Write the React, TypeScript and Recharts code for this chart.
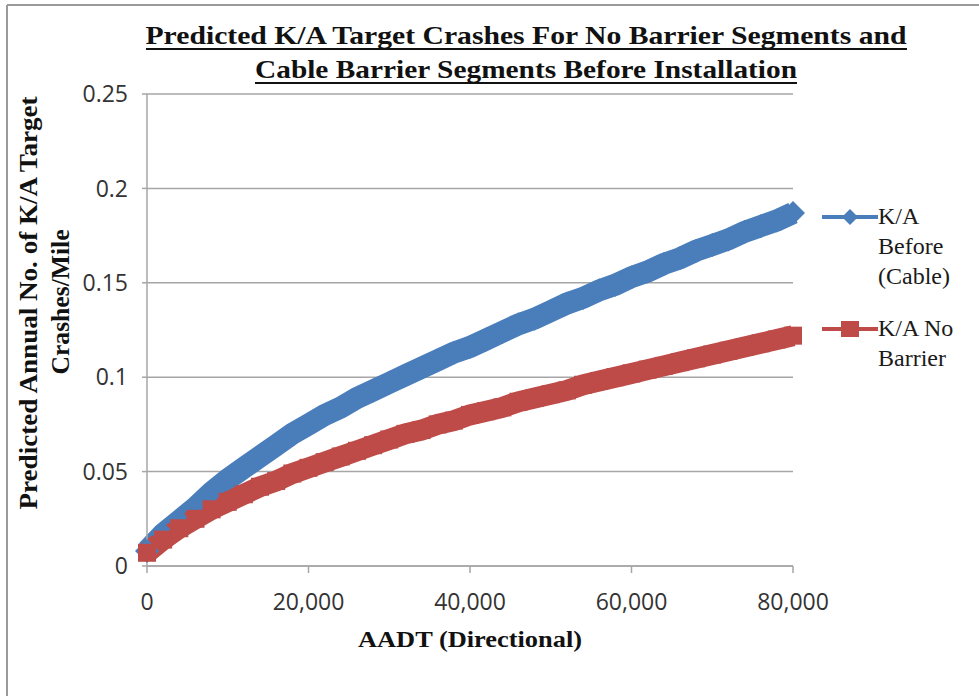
import React from 'react';
import {
  LineChart,
  Line,
  XAxis,
  YAxis,
  CartesianGrid,
  Legend,
} from 'recharts';

// AADT (directional) sample points
const aadt = [
  0, 2000, 4000, 6000, 8000, 10000, 12000, 14000, 16000, 18000,
  20000, 22000, 24000, 26000, 28000, 30000, 32000, 34000, 36000, 38000,
  40000, 42000, 44000, 46000, 48000, 50000, 52000, 54000, 56000, 58000,
  60000, 62000, 64000, 66000, 68000, 70000, 72000, 74000, 76000, 78000,
  80000,
];

// K/A Before (Cable)
const beforeCable = [
  0.008, 0.017, 0.024, 0.031, 0.039, 0.046, 0.052, 0.058, 0.064, 0.070,
  0.075, 0.080, 0.084, 0.089, 0.093, 0.097, 0.101, 0.105, 0.109, 0.113,
  0.116, 0.120, 0.124, 0.128, 0.131, 0.135, 0.139, 0.142, 0.146, 0.149,
  0.153, 0.156, 0.160, 0.163, 0.167, 0.170, 0.173, 0.177, 0.180, 0.183,
  0.187,
];

// K/A No Barrier
const noBarrier = [
  0.007, 0.014, 0.020, 0.025, 0.030, 0.034, 0.038, 0.042, 0.045, 0.049,
  0.052, 0.055, 0.058, 0.061, 0.064, 0.067, 0.070, 0.072, 0.075, 0.077,
  0.080, 0.082, 0.084, 0.087, 0.089, 0.091, 0.093, 0.096, 0.098, 0.100,
  0.102, 0.104, 0.106, 0.108, 0.110, 0.112, 0.114, 0.116, 0.118, 0.120,
  0.122,
];

const xTicks = [0, 20000, 40000, 60000, 80000];
const yTicks = [0, 0.05, 0.1, 0.15, 0.2, 0.25];

const titleLines = [
  'Predicted K/A Target Crashes For No Barrier Segments and',
  'Cable Barrier Segments Before Installation',
];
const yLabelLines = ['Predicted Annual No. of K/A Target', 'Crashes/Mile'];
const xLabel = 'AADT (Directional)';

const legendLines: Record<string, string[]> = {
  beforeCable: ['K/A', 'Before', '(Cable)'],
  noBarrier: ['K/A No', 'Barrier'],
};

const BLUE = '#4a7ebb';
const RED = '#be4b48';
const GRID = '#a6a6a6';
const SERIF = '"Liberation Serif", "Times New Roman", serif';
const SANS = '"Open Sans", "Liberation Sans", sans-serif';

const data = aadt.map((x, i) => ({
  aadt: x,
  beforeCable: beforeCable[i],
  noBarrier: noBarrier[i],
}));

// big diamond markers, mostly hidden inside the thick stroke
const DiamondDot = (props: any) => {
  const { cx, cy, index } = props;
  if (cx == null || cy == null) return <g key={`d-${index}`} />;
  const r = 12;
  return (
    <path
      key={`d-${index}`}
      d={`M${cx},${cy - r}L${cx + r},${cy}L${cx},${cy + r}L${cx - r},${cy}Z`}
      fill={BLUE}
    />
  );
};

const SquareDot = (props: any) => {
  const { cx, cy, index } = props;
  if (cx == null || cy == null) return <g key={`s-${index}`} />;
  const h = 9;
  return <rect key={`s-${index}`} x={cx - h} y={cy - h} width={h * 2} height={h * 2} fill={RED} />;
};

const renderLegend = (props: any) => {
  const { payload } = props;
  return (
    <div style={{ fontFamily: SERIF, fontSize: 24, color: '#1a1a1a', lineHeight: '30px' }}>
      {(payload || []).map((entry: any, i: number) => {
        const key = entry.dataKey as string;
        const lines = legendLines[key] || [entry.value];
        const color = entry.color;
        return (
          <div key={key} style={{ display: 'flex', alignItems: 'flex-start', marginBottom: i === 0 ? 22 : 0 }}>
            <svg width={60} height={30} style={{ flex: 'none' }}>
              <line x1={4} y1={16} x2={60} y2={16} stroke={color} strokeWidth={4} />
              {key === 'beforeCable' ? (
                <path d="M32,8L40,16L32,24L24,16Z" fill={color} />
              ) : (
                <rect x={23} y={8} width={18} height={16} fill={color} />
              )}
            </svg>
            <div>
              {lines.map((l) => (
                <div key={l}>{l}</div>
              ))}
            </div>
          </div>
        );
      })}
    </div>
  );
};

const App: React.FC = () => {
  return (
    <div style={{ position: 'absolute', left: 0, top: 0, width: 979, height: 696, background: '#fff' }}>
      <svg
        width={979}
        height={696}
        style={{ position: 'absolute', left: 0, top: 0, pointerEvents: 'none' }}
      >
        <line x1={7} y1={5} x2={979} y2={5} stroke="#9a9a9a" strokeWidth={2} />
        <line x1={7} y1={5} x2={7} y2={696} stroke="#9a9a9a" strokeWidth={2} />
        <text
          x={526}
          y={44}
          textAnchor="middle"
          fontFamily={SERIF}
          fontWeight="bold"
          fontSize={26}
          textLength={761}
          lengthAdjust="spacingAndGlyphs"
          fill="#111"
        >
          {titleLines[0]}
        </text>
        <line x1={146} y1={49} x2={907} y2={49} stroke="#111" strokeWidth={2} />
        <text
          x={526}
          y={78}
          textAnchor="middle"
          fontFamily={SERIF}
          fontWeight="bold"
          fontSize={26}
          textLength={542}
          lengthAdjust="spacingAndGlyphs"
          fill="#111"
        >
          {titleLines[1]}
        </text>
        <line x1={255} y1={83} x2={797} y2={83} stroke="#111" strokeWidth={2} />
        <text
          transform="translate(37,303) rotate(-90)"
          textAnchor="middle"
          fontFamily={SERIF}
          fontWeight="bold"
          fontSize={25}
          textLength={413}
          lengthAdjust="spacingAndGlyphs"
          fill="#111"
        >
          {yLabelLines[0]}
        </text>
        <text
          transform="translate(69,302) rotate(-90)"
          textAnchor="middle"
          fontFamily={SERIF}
          fontWeight="bold"
          fontSize={25}
          textLength={145}
          lengthAdjust="spacingAndGlyphs"
          fill="#111"
        >
          {yLabelLines[1]}
        </text>
        <text
          x={470}
          y={647}
          textAnchor="middle"
          fontFamily={SERIF}
          fontWeight="bold"
          fontSize={23}
          textLength={224}
          lengthAdjust="spacingAndGlyphs"
          fill="#111"
        >
          {xLabel}
        </text>
      </svg>
      <LineChart
        width={979}
        height={696}
        data={data}
        margin={{ top: 94, right: 26, bottom: 70, left: 67 }}
        style={{ position: 'absolute', left: 0, top: 0 }}
      >
        <CartesianGrid vertical={false} stroke={GRID} strokeWidth={1.5} />
        <XAxis
          dataKey="aadt"
          type="number"
          domain={[0, 80000]}
          ticks={xTicks}
          tickFormatter={(v: number) => v.toLocaleString('en-US')}
          stroke={GRID}
          strokeWidth={1.5}
          tickSize={7}
          tickMargin={21}
          height={60}
          tick={{ fill: '#333', fontSize: 23, fontFamily: SANS }}
        />
        <YAxis
          type="number"
          domain={[0, 0.25]}
          ticks={yTicks}
          tickFormatter={(v: number) => String(v)}
          stroke={GRID}
          strokeWidth={1.5}
          tickSize={5}
          tickMargin={14}
          width={80}
          tick={{ fill: '#333', fontSize: 23, fontFamily: SANS }}
        />
        <Legend
          layout="vertical"
          align="right"
          verticalAlign="top"
          content={renderLegend}
          wrapperStyle={{ left: 818, top: 201, width: 160 }}
        />
        <Line
          dataKey="beforeCable"
          name="K/A Before (Cable)"
          type="linear"
          stroke={BLUE}
          strokeWidth={22}
          dot={DiamondDot}
          activeDot={false}
          isAnimationActive={false}
        />
        <Line
          dataKey="noBarrier"
          name="K/A No Barrier"
          type="linear"
          stroke={RED}
          strokeWidth={21}
          dot={SquareDot}
          activeDot={false}
          isAnimationActive={false}
        />
      </LineChart>
    </div>
  );
};

export default App;
